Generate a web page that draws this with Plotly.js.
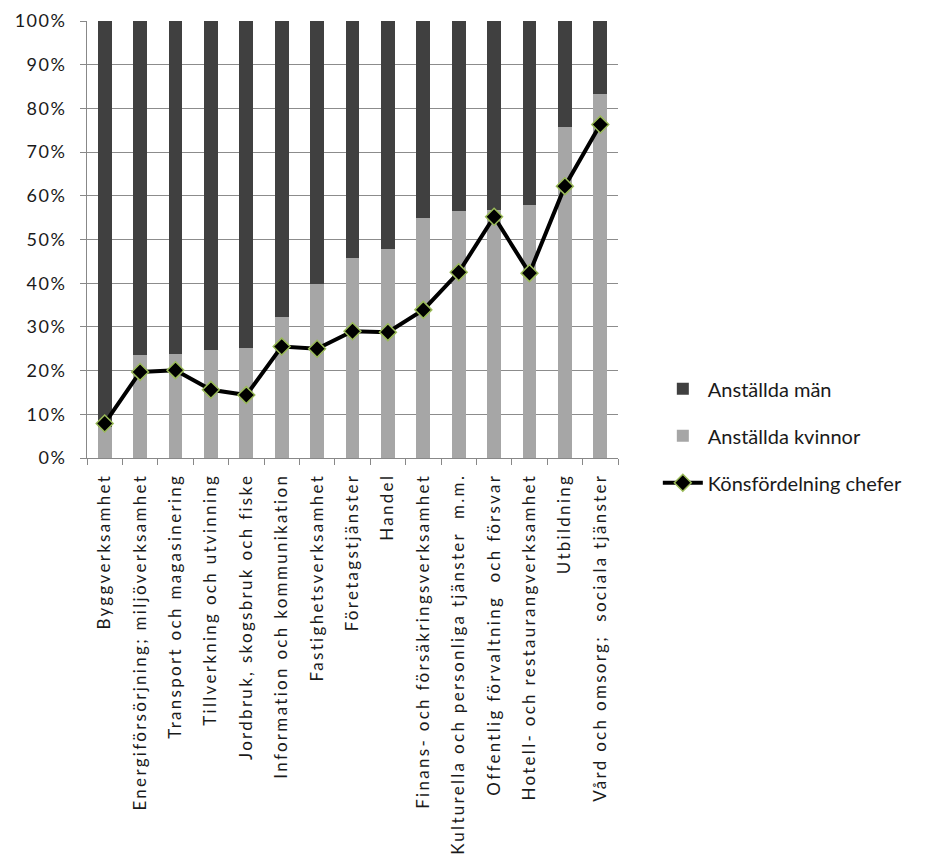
<!DOCTYPE html>
<html>
<head>
<meta charset="utf-8">
<script src="https://cdn.plot.ly/plotly-3.0.1.min.js"></script>
<style>
html,body{margin:0;padding:0;background:#fff;}
#chart{width:928px;height:855px;}
#chart .xtick text{letter-spacing:2.3px;}
#chart .ytick text{letter-spacing:1.5px;}
</style>
</head>
<body>
<div id="chart"></div>
<script>
const categories = [
  "Byggverksamhet",
  "Energiförsörjning; miljöverksamhet",
  "Transport och magasinering",
  "Tillverkning och utvinning",
  "Jordbruk, skogsbruk och fiske",
  "Information och kommunikation",
  "Fastighetsverksamhet",
  "Företagstjänster",
  "Handel",
  "Finans- och försäkringsverksamhet",
  "Kulturella och personliga tjänster  m.m.",
  "Offentlig förvaltning  och försvar",
  "Hotell- och restaurangverksamhet",
  "Utbildning",
  "Vård och omsorg;  sociala tjänster"
];
const womenShare = [0.07, 0.235, 0.239, 0.248, 0.252, 0.323, 0.398, 0.457, 0.478, 0.549, 0.566, 0.567, 0.578, 0.758, 0.832];
const menShare = [0.93, 0.765, 0.761, 0.752, 0.748, 0.677, 0.602, 0.543, 0.522, 0.451, 0.434, 0.433, 0.422, 0.242, 0.168];
const managersShare = [0.079, 0.197, 0.201, 0.156, 0.144, 0.255, 0.250, 0.290, 0.288, 0.339, 0.425, 0.552, 0.423, 0.622, 0.763];
const yTickVals = [0, 0.1, 0.2, 0.3, 0.4, 0.5, 0.6, 0.7, 0.8, 0.9, 1.0];
const yTickText = ["0%", "10%", "20%", "30%", "40%", "50%", "60%", "70%", "80%", "90%", "100%"];

const FONT = "Lato, 'Open Sans', sans-serif";

const traces = [
  {
    type: "bar", name: "Anställda kvinnor", x: categories, y: womenShare,
    marker: {color: "#a6a6a6"}, legendrank: 2, legendgroup: "b", hoverinfo: "skip"
  },
  {
    type: "bar", name: "Anställda män", x: categories, y: menShare,
    marker: {color: "#404040"}, legendrank: 1, legendgroup: "a", hoverinfo: "skip"
  },
  {
    type: "scatter", mode: "lines+markers", name: "Könsfördelning chefer",
    x: categories, y: managersShare,
    line: {color: "#000000", width: 4},
    marker: {symbol: "diamond", size: 13, color: "#000000", line: {color: "#9bbb59", width: 1.5}},
    legendrank: 3, legendgroup: "c", hoverinfo: "skip"
  }
];

const layout = {
  width: 928, height: 855,
  paper_bgcolor: "#ffffff", plot_bgcolor: "#ffffff",
  margin: {l: 87, r: 310, t: 21, b: 397},
  barmode: "stack",
  bargap: 0.61,
  showlegend: true,
  font: {family: FONT, color: "#1a1a1a", size: 16},
  xaxis: {
    type: "category",
    range: [-0.5, 14.5],
    autorange: false,
    tickangle: -90,
    tickson: "boundaries",
    ticks: "outside", ticklen: 6, tickcolor: "#888888",
    ticklabelstandoff: 8,
    showline: true, linecolor: "#888888", linewidth: 1,
    showgrid: false,
    tickfont: {family: FONT, size: 17, color: "#1a1a1a"},
    automargin: false
  },
  yaxis: {
    range: [0, 1],
    autorange: false,
    tickvals: yTickVals, ticktext: yTickText,
    ticks: "outside", ticklen: 6, tickcolor: "#888888",
    ticklabelstandoff: 10,
    showline: true, linecolor: "#888888", linewidth: 1,
    showgrid: true, gridcolor: "#8c8c8c", gridwidth: 1,
    zeroline: false,
    tickfont: {family: FONT, size: 18, color: "#1a1a1a"},
    automargin: false
  },
  legend: {
    x: 1.075, xanchor: "left",
    y: 0.051, yanchor: "middle",
    traceorder: "grouped",
    tracegroupgap: 18,
    itemwidth: 40,
    font: {family: FONT, size: 20, color: "#1a1a1a"},
    bgcolor: "rgba(0,0,0,0)"
  }
};

Plotly.newPlot("chart", traces, layout, {displayModeBar: false, staticPlot: true});
</script>
</body>
</html>
